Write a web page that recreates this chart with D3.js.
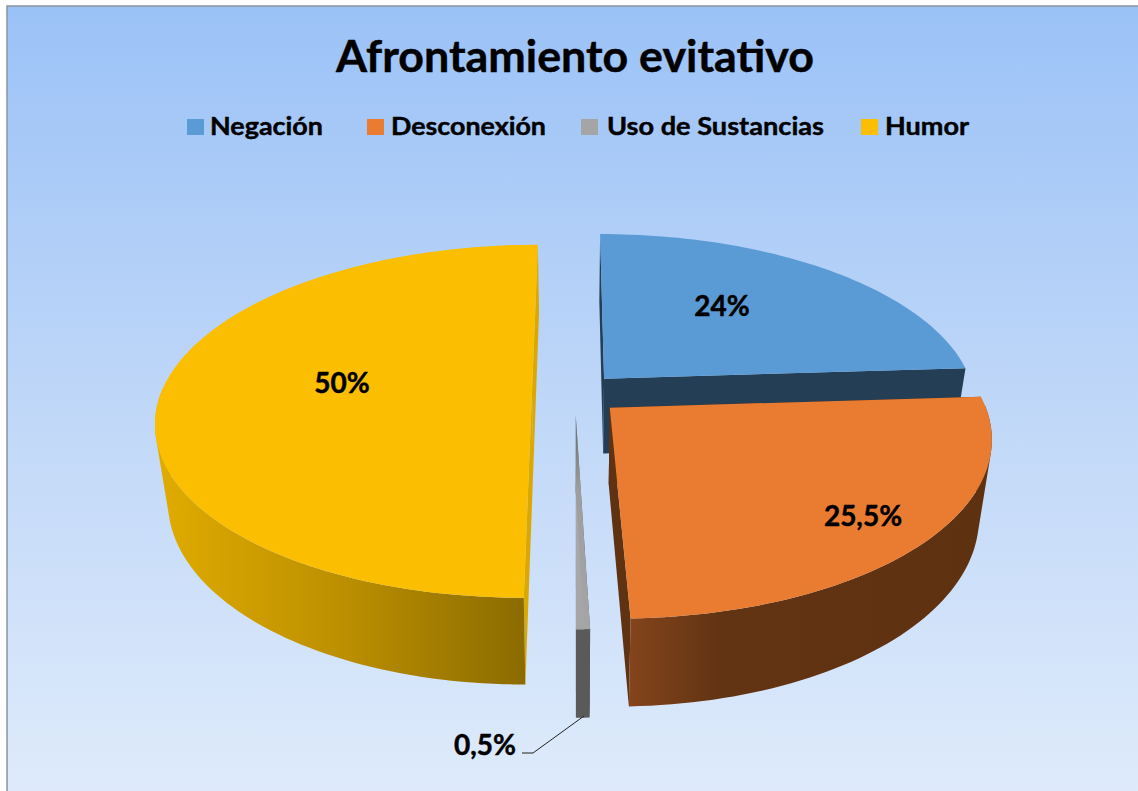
<!DOCTYPE html>
<html><head><meta charset="utf-8">
<script src="https://cdn.jsdelivr.net/npm/d3@7"></script>
<style>html,body{margin:0;padding:0;background:#fff;overflow:hidden}svg{display:block}text{font-family:Lato,Carlito,"Open Sans",sans-serif;font-weight:700;fill:#000;stroke:#000;stroke-width:.45px}</style>
</head><body><svg id="c" width="1138" height="791"></svg>
<script>
const titleText = "Afrontamiento evitativo";
const categories = ["Negación","Desconexión","Uso de Sustancias","Humor"];
const values = [24,25.5,0.5,50];
const valueLabels = ["24%","25,5%","0,5%","50%"];
const explode = [0.116,0.125,0.126,0.116];
const topColors = ["#5b9bd5","#ea7c31","#a5a5a5","#fbbe00"];
const sideColors = ["#243f55","#5f3212","#5a5a5a","#daa800"];
const legendX = [187,367,581,861];
const legendTextX = [210,391,607,885];
const legendTextW = [113,155,217,84];
const labelX = [722,863,485,342];
const labelY = [306,516,745,383];

const W=1138,H=791, vx=575, cy=393, a=371, b=172, p=0.16, shrink=0.969;
const svg=d3.select("#c"), defs=svg.append("defs");
const bg=defs.append("linearGradient").attr("id","bg").attr("x1",0).attr("y1",0).attr("x2",0).attr("y2",1);
[[0,"#9bc2f7"],[0.5,"#bfd7f8"],[1,"#dfebfb"]].forEach(s=>bg.append("stop").attr("offset",s[0]).attr("stop-color",s[1]));
svg.append("rect").attr("x",7).attr("y",6).attr("width",W).attr("height",H).attr("fill","url(#bg)").attr("stroke","#8b949e").attr("stroke-width",1.5);

function hgrad(id,x0,x1,stops){const g=defs.append("linearGradient").attr("id",id).attr("gradientUnits","userSpaceOnUse").attr("x1",x0).attr("x2",x1).attr("y1",0).attr("y2",0);
  stops.forEach(s=>g.append("stop").attr("offset",s[0]).attr("stop-color",s[1]));}
hgrad("wallY",165,524,[[0,"#dfab00"],[0.5,"#bb8f00"],[1,"#8c6c00"]]);
hgrad("wallO",630,980,[[0,"#84441c"],[0.25,"#633413"],[1,"#5e3111"]]);
const gt=defs.append("linearGradient").attr("id","topG").attr("x1",0).attr("x2",0).attr("y1",0).attr("y2",1);
gt.append("stop").attr("offset",0).attr("stop-color","#a5a5a5").attr("stop-opacity",0.15);
gt.append("stop").attr("offset",0.35).attr("stop-color","#a5a5a5").attr("stop-opacity",0.9);
gt.append("stop").attr("offset",1).attr("stop-color","#a5a5a5");

const arcs=d3.pie().sort(null).value(d=>d)(values);
const project=(X,Y)=>{const w=1-p*Y;return [vx+a*X/w, cy+b*Y/w];};
const drop=q=>[vx+(q[0]-vx)*shrink, q[1]*1.054+54.5];
const line=d3.line();
function sliceGeom(d,i){
  const mid=(d.startAngle+d.endAngle)/2, e=explode[i];
  const ox=e*Math.sin(mid), oy=-e*Math.cos(mid);
  const n=Math.max(2,Math.ceil((d.endAngle-d.startAngle)*40));
  const ts=d3.range(n+1).map(k=>d.startAngle+(d.endAngle-d.startAngle)*k/n);
  return {apex:project(ox,oy),ts,rim:ts.map(t=>project(ox+Math.sin(t),oy-Math.cos(t)))};
}
const wallFill=["#243f55","url(#wallO)","#5a5a5a","url(#wallY)"];
const order=[0,3,2,1];
order.forEach(i=>{
  const g=sliceGeom(arcs[i],i), r=g.rim, first=r[0], last=r[r.length-1], A=g.apex;
  const G=svg.append("g").attr("class","slice");
  // radial walls
  G.append("path").attr("d",line([first,A,drop(A),drop(first)])+"Z").attr("fill",sideColors[i]);
  G.append("path").attr("d",line([last,A,drop(A),drop(last)])+"Z").attr("fill",sideColors[i]);
  // outer wall: front-facing segments only, each as a hull so the silhouette is swept
  let wall="";
  d3.pairs(d3.range(r.length)).forEach(([u,v])=>{
    if(-Math.cos(g.ts[u])<0 && -Math.cos(g.ts[v])<0) return;
    wall+=line(d3.polygonHull([r[u],r[v],drop(r[u]),drop(r[v])]))+"Z";
  });
  if(wall) G.append("path").attr("d",wall).attr("fill",wallFill[i]);
  // top
  G.append("path").attr("d",line([A].concat(r))+"Z").attr("fill",i===2?"url(#topG)":topColors[i]);
});

svg.append("path").attr("d",line([[522,753],[533,753],[584,716]])).attr("fill","none").attr("stroke","#222").attr("stroke-width",1);

function fitText(sel,w){sel.attr("textLength",w).attr("lengthAdjust","spacingAndGlyphs");}
svg.append("text").attr("x",336).attr("y",72).attr("font-size",44).text(titleText).call(fitText,478);
categories.forEach((c,i)=>{
  svg.append("rect").attr("x",legendX[i]).attr("y",119).attr("width",17).attr("height",16).attr("fill",topColors[i]);
  svg.append("text").attr("x",legendTextX[i]).attr("y",135).attr("font-size",25).text(c).call(fitText,legendTextW[i]);
  svg.append("text").attr("x",labelX[i]).attr("y",labelY[i]+10).attr("text-anchor","middle").attr("font-size",28).text(valueLabels[i]);
});
</script></body></html>
